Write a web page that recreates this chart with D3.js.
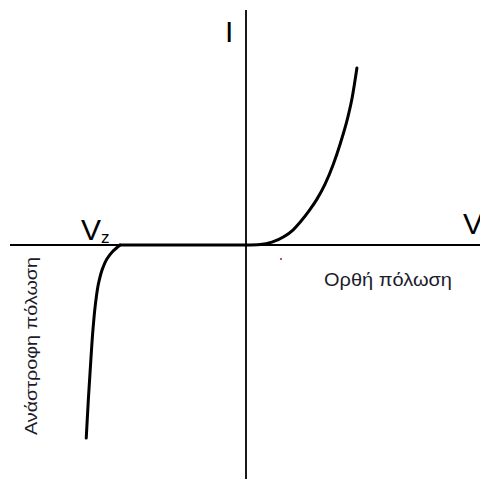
<!DOCTYPE html>
<html><head><meta charset="utf-8">
<script src="https://cdn.jsdelivr.net/npm/d3@7"></script>
<style>html,body{margin:0;padding:0;background:#fff;overflow:hidden}</style>
</head><body>
<svg id="c" width="480" height="479"></svg>
<script>
// Diode I-V characteristic (arbitrary units)
const forwardV = [0, 0.6, 1.1, 1.6, 2.0, 2.3, 2.7, 3.0, 3.35, 3.7, 4.0, 4.3, 4.5, 4.7];
const forwardI = [0, 0.02, 0.12, 0.35, 0.65, 0.98, 1.5, 1.95, 2.6, 3.45, 4.35, 5.4, 6.3, 7.56];
const flatV = [-5.34, 0];
const flatI = [0, 0];
const reverseV = [-6.77, -6.68, -6.58, -6.475, -6.365, -6.24, -6.075, -5.895, -5.67, -5.34];
const reverseI = [-8.25, -6.6, -5.0, -3.5, -2.4, -1.6, -1.0, -0.6, -0.3, 0];
const labels = {I: "I", V: "V", Vz: "V", Vzsub: "z", forward: "Ορθή πόλωση", reverse: "Ανάστροφη πόλωση"};

const svg = d3.select("#c");
const x = d3.scaleLinear().domain([-10, 10]).range([10, 482]);
const y = d3.scaleLinear().domain([-10, 10]).range([479, 11]);
const font = "'Liberation Sans', Arial, sans-serif";

// axes
svg.append("line").attr("x1", x(-10)).attr("x2", 480).attr("y1", y(0)).attr("y2", y(0))
  .attr("stroke", "#000").attr("stroke-width", 1.8);
svg.append("line").attr("x1", x(0)).attr("x2", x(0)).attr("y1", 10).attr("y2", 479)
  .attr("stroke", "#000").attr("stroke-width", 1.8);

const mk = (vs, is) => vs.map((v, i) => [v, is[i]]);
const lineX = d3.line().x(d => x(d[0])).y(d => y(d[1])).curve(d3.curveMonotoneX);
const lineY = d3.line().x(d => x(d[0])).y(d => y(d[1])).curve(d3.curveMonotoneY);
const draw = d => svg.append("path").attr("d", d).attr("fill", "none")
  .attr("stroke", "#000").attr("stroke-width", 3).attr("stroke-linecap", "round");
draw(lineY(mk(reverseV, reverseI).reverse()));
draw(lineX(mk(flatV, flatI)));
draw(lineX(mk(forwardV, forwardI)));

// labels
svg.append("text").attr("x", 225).attr("y", 42).attr("font-family", font).attr("font-size", 30).text(labels.I);
svg.append("text").attr("x", 463).attr("y", 234).attr("font-family", font).attr("font-size", 30).text(labels.V);
const vz = svg.append("text").attr("x", 81).attr("y", 240).attr("font-family", font).attr("font-size", 30);
vz.append("tspan").text(labels.Vz);
vz.append("tspan").attr("font-size", 17).attr("dy", 3).text(labels.Vzsub);
svg.append("text").attr("x", 324).attr("y", 286).attr("font-family", font).attr("font-size", 18)
  .attr("fill", "#1c1c2c").attr("textLength", 128).attr("lengthAdjust", "spacingAndGlyphs").text(labels.forward);
svg.append("text").attr("transform", "translate(37,435) rotate(-90)").attr("font-family", font)
  .attr("font-size", 17).attr("fill", "#1c1c2c").attr("textLength", 178).attr("lengthAdjust", "spacingAndGlyphs")
  .text(labels.reverse);
svg.append("circle").attr("cx", 281).attr("cy", 259).attr("r", 1).attr("fill", "#a02020");
</script>
</body></html>
